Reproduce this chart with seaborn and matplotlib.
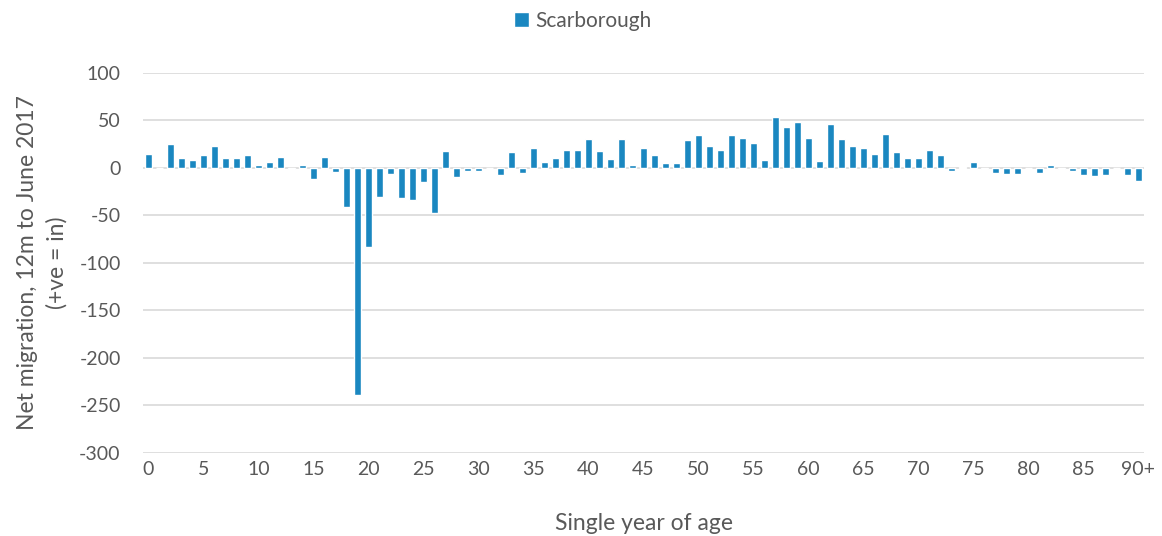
import pandas as pd
import matplotlib
matplotlib.use("Agg")
import matplotlib.pyplot as plt
import seaborn as sns

# single year of age 0..90 (90 = 90+)
ages = list(range(91))
net_migration = [
    15, 0, 25, 10, 8, 14, 23, 10, 10, 14,      # 0-9
    3.5, 6, 12, -1, 3.5, -12, 12, -4, -41, -239,  # 10-19
    -83, -31, -6, -32, -34, -15, -47, 17.5, -10, -3,  # 20-29
    -3, 0, -7, 16.5, -5, 21, 6, 10, 19, 19,     # 30-39
    30, 17.5, 9, 30, 3.5, 21, 14, 5.5, 5.5, 29,  # 40-49
    35, 23.5, 19, 35, 32, 26, 8, 53.5, 43.5, 48.5,  # 50-59
    32, 7, 46.5, 30, 23.5, 21, 15, 36, 16.5, 10,  # 60-69
    10, 19, 14, -3, 0.5, 6, -1.5, -5, -6, -6,   # 70-79
    0, -5, 3.5, -1, -3, -7, -8, -7, 0, -7,      # 80-89
    -14,                                        # 90+
]
tick_ages = list(range(0, 91, 5))
tick_labels = [str(a) for a in tick_ages[:-1]] + ["90+"]
series_name = "Scarborough"

df = pd.DataFrame({"age": ages, "net": net_migration, "area": series_name})

sns.set_style("white")
plt.rcParams["font.family"] = ["Lato", "DejaVu Sans"]
plt.rcParams["axes.unicode_minus"] = False
text_col = "#595959"
bar_col = "#1A87C0"

fig = plt.figure(figsize=(11.62, 5.36), dpi=100)
ax = fig.add_axes([0.123, 0.155, 0.8615, 0.709])

sns.barplot(data=df, x="age", y="net", hue="area", palette=[bar_col],
            saturation=1, width=0.67, ax=ax, order=ages, legend=True)

ax.set_xlim(-0.5, 90.5)
ax.set_ylim(-300, 100)
ax.set_yticks(range(-300, 101, 50))
ax.set_xticks(tick_ages)
ax.set_xticklabels(tick_labels)
ax.tick_params(axis="both", length=0, labelsize=14, colors=text_col)
ax.tick_params(axis="y", pad=16)
ax.tick_params(axis="x", pad=6)
ax.yaxis.grid(True, color="#D9D9D9", linewidth=1.2)
ax.set_axisbelow(True)
for s in ax.spines.values():
    s.set_visible(False)

ax.set_xlabel("")
ax.set_ylabel("")
fig.text(644 / 1162, 1 - 523 / 536, "Single year of age", fontsize=16.5,
         color=text_col, ha="center", va="center")
fig.text(42 / 1162, 1 - 263 / 536, "Net migration, 12m to June 2017\n(+ve = in)",
         fontsize=16.5, color=text_col, ha="center", va="center",
         rotation=90, linespacing=1.45, multialignment="center")

ax.legend(loc="center", bbox_to_anchor=(583 / 1162, 1 - 21 / 536),
          bbox_transform=fig.transFigure, frameon=False,
          fontsize=15, handlelength=0.7, handleheight=0.7, handletextpad=0.3,
          labelcolor=text_col)

fig.savefig("out.png", dpi=100)
